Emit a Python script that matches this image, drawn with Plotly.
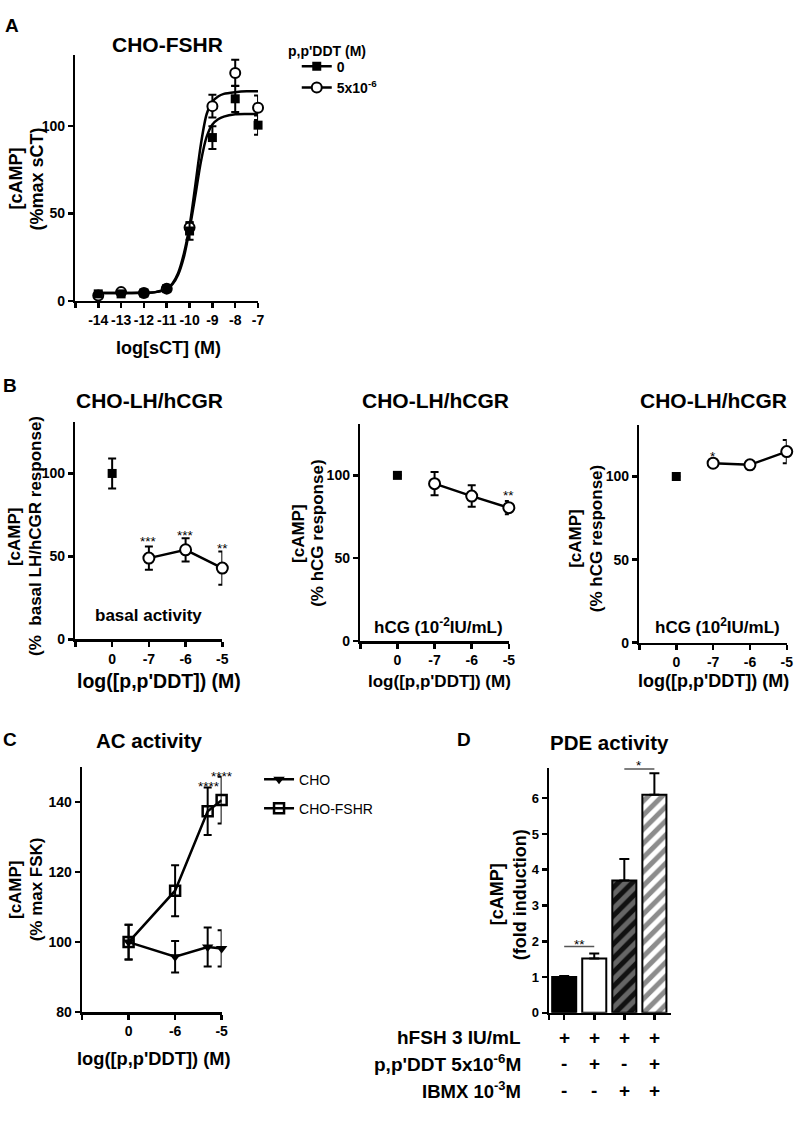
import plotly.graph_objects as go

W, H = 800, 1129
FONT = "Liberation Sans, Arial, Helvetica, sans-serif"

# ---------------- Panel A : CHO-FSHR dose response ----------------
A_x = [-14, -13, -12, -11, -10, -9, -8, -7]
A_ddt0 = [4, 4, 4.5, 7, 40, 93.5, 115.7, 100.6]
A_ddt0_err = [1.5, 1, 1, 1, 5, 6.5, 7.5, 5.5]
A_ddt5 = [3, 5, 4.5, 7, 42, 111.5, 130.5, 110.6]
A_ddt5_err = [1, 1, 1, 1, 3, 6.5, 7.5, 7]
# fitted curves
A_fit_x = [-14, -13, -12, -11.5, -11, -10.75, -10.5, -10.25, -10, -9.75, -9.5,
           -9.25, -9, -8.75, -8.5, -8, -7.5, -7]
A_fit0 = [4.5, 4.5, 4.6, 5.0, 6.8, 9.5, 15, 25, 41, 60, 80, 94, 101, 104,
          105.5, 106.8, 107, 107]
A_fit5 = [4.5, 4.5, 4.6, 5.0, 6.9, 10, 16, 27, 43, 66, 90, 107, 114, 117,
          118.5, 119.5, 120, 120]
A_xtick_text = ["", "-14", "-13", "-12", "-11", "-10", "-9", "-8", "-7"]
A_xtick_vals = [-15, -14, -13, -12, -11, -10, -9, -8, -7]

# ---------------- Panel B : CHO-LH/hCGR ----------------
B_pos = [1, 2, 3, 4]
B_labels = ["0", "-7", "-6", "-5"]
B1_ctrl, B1_ctrl_err = [100], [9]
B1_ddt, B1_ddt_err = [49, 54, 43], [7, 7, 10]
B2_ctrl, B2_ctrl_err = [100], [0]
B2_ddt, B2_ddt_err = [95, 87.5, 80.5], [7, 6.5, 4]
B3_ctrl, B3_ctrl_err = [100], [0]
B3_ddt, B3_ddt_err = [108, 107, 115], [1.2, 1.2, 7]

# ---------------- Panel C : AC activity ----------------
# -7 position stands for the "0" (control) tick
C_x = [-7, -6, -5.3, -5]
C_cho = [100, 95.8, 98.6, 98.2]
C_cho_err = [5, 4.5, 5.6, 5.2]
C_fshr = [100, 114.7, 137.4, 140.6]
C_fshr_err = [5, 7.3, 6.8, 6.7]
C_tick_vals = [-8, -7, -6, -5]
C_tick_text = ["", "0", "-6", "-5"]

# ---------------- Panel D : PDE activity ----------------
D_pos = [0, 1, 2, 3]
D_vals = [1.0, 1.52, 3.7, 6.1]
D_err = [0.03, 0.14, 0.6, 0.6]
D_row_labels = ["hFSH 3 IU/mL", "p,p'DDT 5x10<sup>-6</sup>M", "IBMX 10<sup>-3</sup>M"]
D_signs = [["+", "+", "+", "+"], ["-", "+", "-", "+"], ["-", "-", "+", "+"]]


def fx(p):
    return p / W


def fy(p):
    return 1 - p / H


def font(size, bold=True, color="black"):
    return dict(family=FONT, size=size, color=color, weight="bold" if bold else "normal")


def axis(dom, rng, tsize=14, **kw):
    d = dict(domain=dom, range=rng, showline=True, linecolor="black", linewidth=2.5,
             ticks="outside", ticklen=5, tickwidth=2.5, tickcolor="black",
             showgrid=False, zeroline=False, tickfont=font(tsize), fixedrange=True)
    d.update(kw)
    return d


def err(arr, minus=None, width=4):
    e = dict(type="data", array=arr, visible=True, color="black", thickness=2, width=width)
    if minus is not None:
        e["symmetric"] = False
        e["arrayminus"] = minus
    return e


fig = go.Figure()

# ---- A traces
for yv in (A_fit0, A_fit5):
    fig.add_trace(go.Scatter(x=A_fit_x, y=yv, mode="lines", line=dict(color="black", width=2.5,
                             shape="spline", smoothing=0.8), showlegend=False,
                             xaxis="x", yaxis="y", hoverinfo="skip", cliponaxis=False))
fig.add_trace(go.Scatter(x=A_x, y=A_ddt5, mode="markers", error_y=err(A_ddt5_err),
                         marker=dict(symbol="circle", size=10, color="white",
                                     line=dict(color="black", width=2)),
                         showlegend=False, xaxis="x", yaxis="y", cliponaxis=False))
fig.add_trace(go.Scatter(x=A_x, y=A_ddt0, mode="markers", error_y=err(A_ddt0_err),
                         marker=dict(symbol="square", size=9, color="black"),
                         showlegend=False, xaxis="x", yaxis="y", cliponaxis=False))
# legend entries for A
fig.add_trace(go.Scatter(x=[None], y=[None], mode="lines+markers", name="0",
                         line=dict(color="black", width=2.5),
                         marker=dict(symbol="square", size=9, color="black"),
                         xaxis="x", yaxis="y", legend="legend"))
fig.add_trace(go.Scatter(x=[None], y=[None], mode="lines+markers", name="5x10<sup>-6</sup>",
                         line=dict(color="black", width=2.5),
                         marker=dict(symbol="circle", size=10, color="white",
                                     line=dict(color="black", width=2)),
                         xaxis="x", yaxis="y", legend="legend"))

# ---- B traces
B_sets = [(B1_ctrl, B1_ctrl_err, B1_ddt, B1_ddt_err, "2"),
          (B2_ctrl, B2_ctrl_err, B2_ddt, B2_ddt_err, "3"),
          (B3_ctrl, B3_ctrl_err, B3_ddt, B3_ddt_err, "4")]
for ctrl, ctrl_e, ddt, ddt_e, k in B_sets:
    fig.add_trace(go.Scatter(x=B_pos[:1], y=ctrl, mode="markers", error_y=err(ctrl_e),
                             marker=dict(symbol="square", size=9, color="black"),
                             showlegend=False, xaxis="x" + k, yaxis="y" + k, cliponaxis=False))
    fig.add_trace(go.Scatter(x=B_pos[1:], y=ddt, mode="lines+markers", error_y=err(ddt_e),
                             line=dict(color="black", width=2.5),
                             marker=dict(symbol="circle", size=11, color="white",
                                         line=dict(color="black", width=2)),
                             showlegend=False, xaxis="x" + k, yaxis="y" + k, cliponaxis=False))

# ---- C traces
fig.add_trace(go.Scatter(x=C_x, y=C_cho, mode="lines+markers", name="CHO",
                         error_y=err(C_cho_err),
                         line=dict(color="black", width=2.5),
                         marker=dict(symbol="triangle-down", size=10, color="black"),
                         xaxis="x5", yaxis="y5", legend="legend2", legendgroup="g1",
                         cliponaxis=False))
fig.add_trace(go.Scatter(x=C_x, y=C_fshr, mode="lines+markers", name="CHO-FSHR",
                         error_y=err(C_fshr_err),
                         line=dict(color="black", width=2.5),
                         marker=dict(symbol="square-open", size=10, color="black",
                                     line=dict(color="black", width=2.5)),
                         xaxis="x5", yaxis="y5", legend="legend2", legendgroup="g2",
                         cliponaxis=False))

# ---- D bars (one trace per bar so each gets its own fill pattern)
D_styles = [
    dict(color="black"),
    dict(color="white"),
    dict(color="#666666", pattern=dict(shape="/", bgcolor="#666666", fgcolor="#111111",
                                       size=10, solidity=0.5, fillmode="replace")),
    dict(color="white", pattern=dict(shape="/", bgcolor="white", fgcolor="#8c8c8c",
                                     size=10, solidity=0.5, fillmode="replace")),
]
for i, st in enumerate(D_styles):
    m = dict(st)
    m["line"] = dict(color="black", width=2)
    fig.add_trace(go.Bar(x=[D_pos[i]], y=[D_vals[i]], width=0.8,
                         error_y=err([D_err[i]], minus=[0], width=5),
                         marker=m, showlegend=False, xaxis="x6", yaxis="y6"))

layout = dict(
    width=W, height=H, margin=dict(l=0, r=0, t=0, b=0), barmode="overlay",
    paper_bgcolor="white", plot_bgcolor="white", font=font(14),
    xaxis=axis([fx(76), fx(260)], [-15, -7], tickvals=A_xtick_vals, ticktext=A_xtick_text, anchor="y"),
    yaxis=axis([fy(303), fy(55)], [0, 141], tickvals=[0, 50, 100], anchor="x"),
    xaxis2=axis([fx(76), fx(224)], [0, 4], tickvals=[0.001] + B_pos, ticktext=[""] + B_labels, anchor="y2"),
    yaxis2=axis([fy(644), fy(425)], [0, 131], tickvals=[0, 50, 100], anchor="x2"),
    xaxis3=axis([fx(363), fx(512.7)], [0, 4], tickvals=[0.001] + B_pos, ticktext=[""] + B_labels, anchor="y3"),
    yaxis3=axis([fy(645.7), fy(427)], [0, 131], tickvals=[0, 50, 100], anchor="x3"),
    xaxis4=axis([fx(644.3), fx(792.7)], [0, 4], tickvals=[0.001] + B_pos, ticktext=[""] + B_labels, anchor="y4"),
    yaxis4=axis([fy(647.3), fy(428)], [0, 131], tickvals=[0, 50, 100], anchor="x4"),
    xaxis5=axis([fx(82.7), fx(223.3)], [-8, -5], tickvals=C_tick_vals, ticktext=C_tick_text, anchor="y5"),
    yaxis5=axis([fy(1019.3), fy(772.7)], [80, 150], tickvals=[80, 100, 120, 140], anchor="x5"),
    xaxis6=axis([fx(553.3), fx(676)], [-0.5, 3.55], tickvals=[-0.499] + D_pos, showticklabels=False, anchor="y6"),
    yaxis6=axis([fy(1020), fy(773.3)], [0, 6.85], tsize=13, tickvals=[0, 1, 2, 3, 4, 5, 6], anchor="x6"),
    legend=dict(x=fx(299), y=fy(51), xanchor="left", yanchor="top", bgcolor="rgba(0,0,0,0)",
                font=font(14), itemwidth=30, tracegroupgap=0),
    legend2=dict(x=fx(261), y=fy(769), xanchor="left", yanchor="top", bgcolor="rgba(0,0,0,0)",
                 font=font(14, bold=False), itemwidth=30, tracegroupgap=8),
    showlegend=True,
)

ann = []
VSHIFT = 3  # glyph centre sits a little above the text box centre


def txt(text, x, y, size, bold=True, angle=0, xanchor="center", yanchor="middle",
        xref="paper", yref="paper", shift=True):
    if yref == "paper" and angle == 0 and shift:
        y = y + VSHIFT
    if xref == "paper" and angle != 0 and shift:
        x = x + VSHIFT
    ann.append(dict(text=text, x=fx(x) if xref == "paper" else x,
                    y=fy(y) if yref == "paper" else y, xref=xref, yref=yref,
                    showarrow=False, font=font(size, bold), textangle=angle,
                    xanchor=xanchor, yanchor=yanchor))


# legend title for A
txt("p,p'DDT (M)", 329, 48, 14)
# panel letters
for letter, x, y in [("A", 12, 23), ("B", 10, 385), ("C", 10, 742), ("D", 468, 742)]:
    txt(letter, x, y, 19)
# titles
for t, x, y, s in [("CHO-FSHR", 169, 42, 21), ("CHO-LH/hCGR", 151, 400, 21),
                   ("CHO-LH/hCGR", 438.5, 400, 21), ("CHO-LH/hCGR", 719, 400, 21),
                   ("AC activity", 151, 743, 20.5), ("PDE activity", 614.5, 745, 20.5)]:
    txt(t, x, y, s)
# y titles (two lines each, placed separately)
for l1, l2, x1, x2, y, s in [("[cAMP]", "(%max sCT)", 13, 34, 180, 18),
                             ("[cAMP]", "(% \u00a0basal LH/hCGR response)", 11, 32, 540, 17),
                             ("[cAMP]", "(% hCG response)", 297, 317, 537, 17),
                             ("[cAMP]", "(% hCG response)", 577, 597.5, 542, 17),
                             ("[cAMP]", "(% max FSK)", 12.5, 34, 896, 17),
                             ("[cAMP]", "(fold induction)", 497.5, 520.5, 901, 18)]:
    txt(l1, x1, y, s, angle=-90)
    txt(l2, x2, y, s, angle=-90)
# x titles
for t, x, y, s in [("log[sCT] (M)", 170, 347, 18), ("log([p,p'DDT]) (M)", 160, 683, 19.5),
                   ("log([p,p'DDT]) (M)", 443, 683, 17), ("log([p,p'DDT]) (M)", 719, 683, 18),
                   ("log([p,p'DDT]) (M)", 155, 1063, 18.3)]:
    txt(t, x, y, s)
# inner labels
txt("basal activity", 150, 617, 17)
txt("hCG (10<sup>-2</sup>IU/mL)", 442, 627, 17)
txt("hCG (10<sup>2</sup>IU/mL)", 723, 627, 17)

# significance stars (data coords)
for t, x, y, k in [("***", 2, 59.3, "2"), ("***", 3, 62.9, "2"), ("**", 4, 54.5, "2"),
                   ("**", 4, 87.8, "3"), ("*", 2, 112, "4"),
                   ("****", -5.27, 144.5, "5"), ("****", -5.001, 147.4, "5"),
                   ("**", 0.5, 1.9, "6")]:
    txt(t, x, y, 13.5, bold=False, xref="x" + k, yref="y" + k)
txt("*", 2.5, 771, 13.5, bold=False, xref="x6", shift=False)

# D condition rows
for lab, y, s in zip(D_row_labels, [1042, 1068, 1095], [19, 19, 18.5]):
    txt(lab, 527, y, s, xanchor="right")
for row, y in zip(D_signs, [1042, 1068, 1095]):
    for xi, s in zip(D_pos, row):
        txt(s, xi, y, 19, xref="x6")

layout["annotations"] = ann
layout["shapes"] = [
    dict(type="line", xref="x6", yref="y6", x0=0, x1=1, y0=1.85, y1=1.85,
         line=dict(color="#555555", width=1.5)),
    dict(type="line", xref="x6", yref="y6", x0=2, x1=3, y0=6.82, y1=6.82,
         line=dict(color="#555555", width=1.5)),
]
fig.update_layout(**layout)
fig.write_html(
    "out.html",
    config={"displayModeBar": False, "staticPlot": True},
    post_script=("var s=document.documentElement.style;s.margin='0';s.padding='0';s.overflow='hidden';"
                 "var b=document.body.style;b.margin='0';b.padding='0';b.overflow='hidden';"),
)
